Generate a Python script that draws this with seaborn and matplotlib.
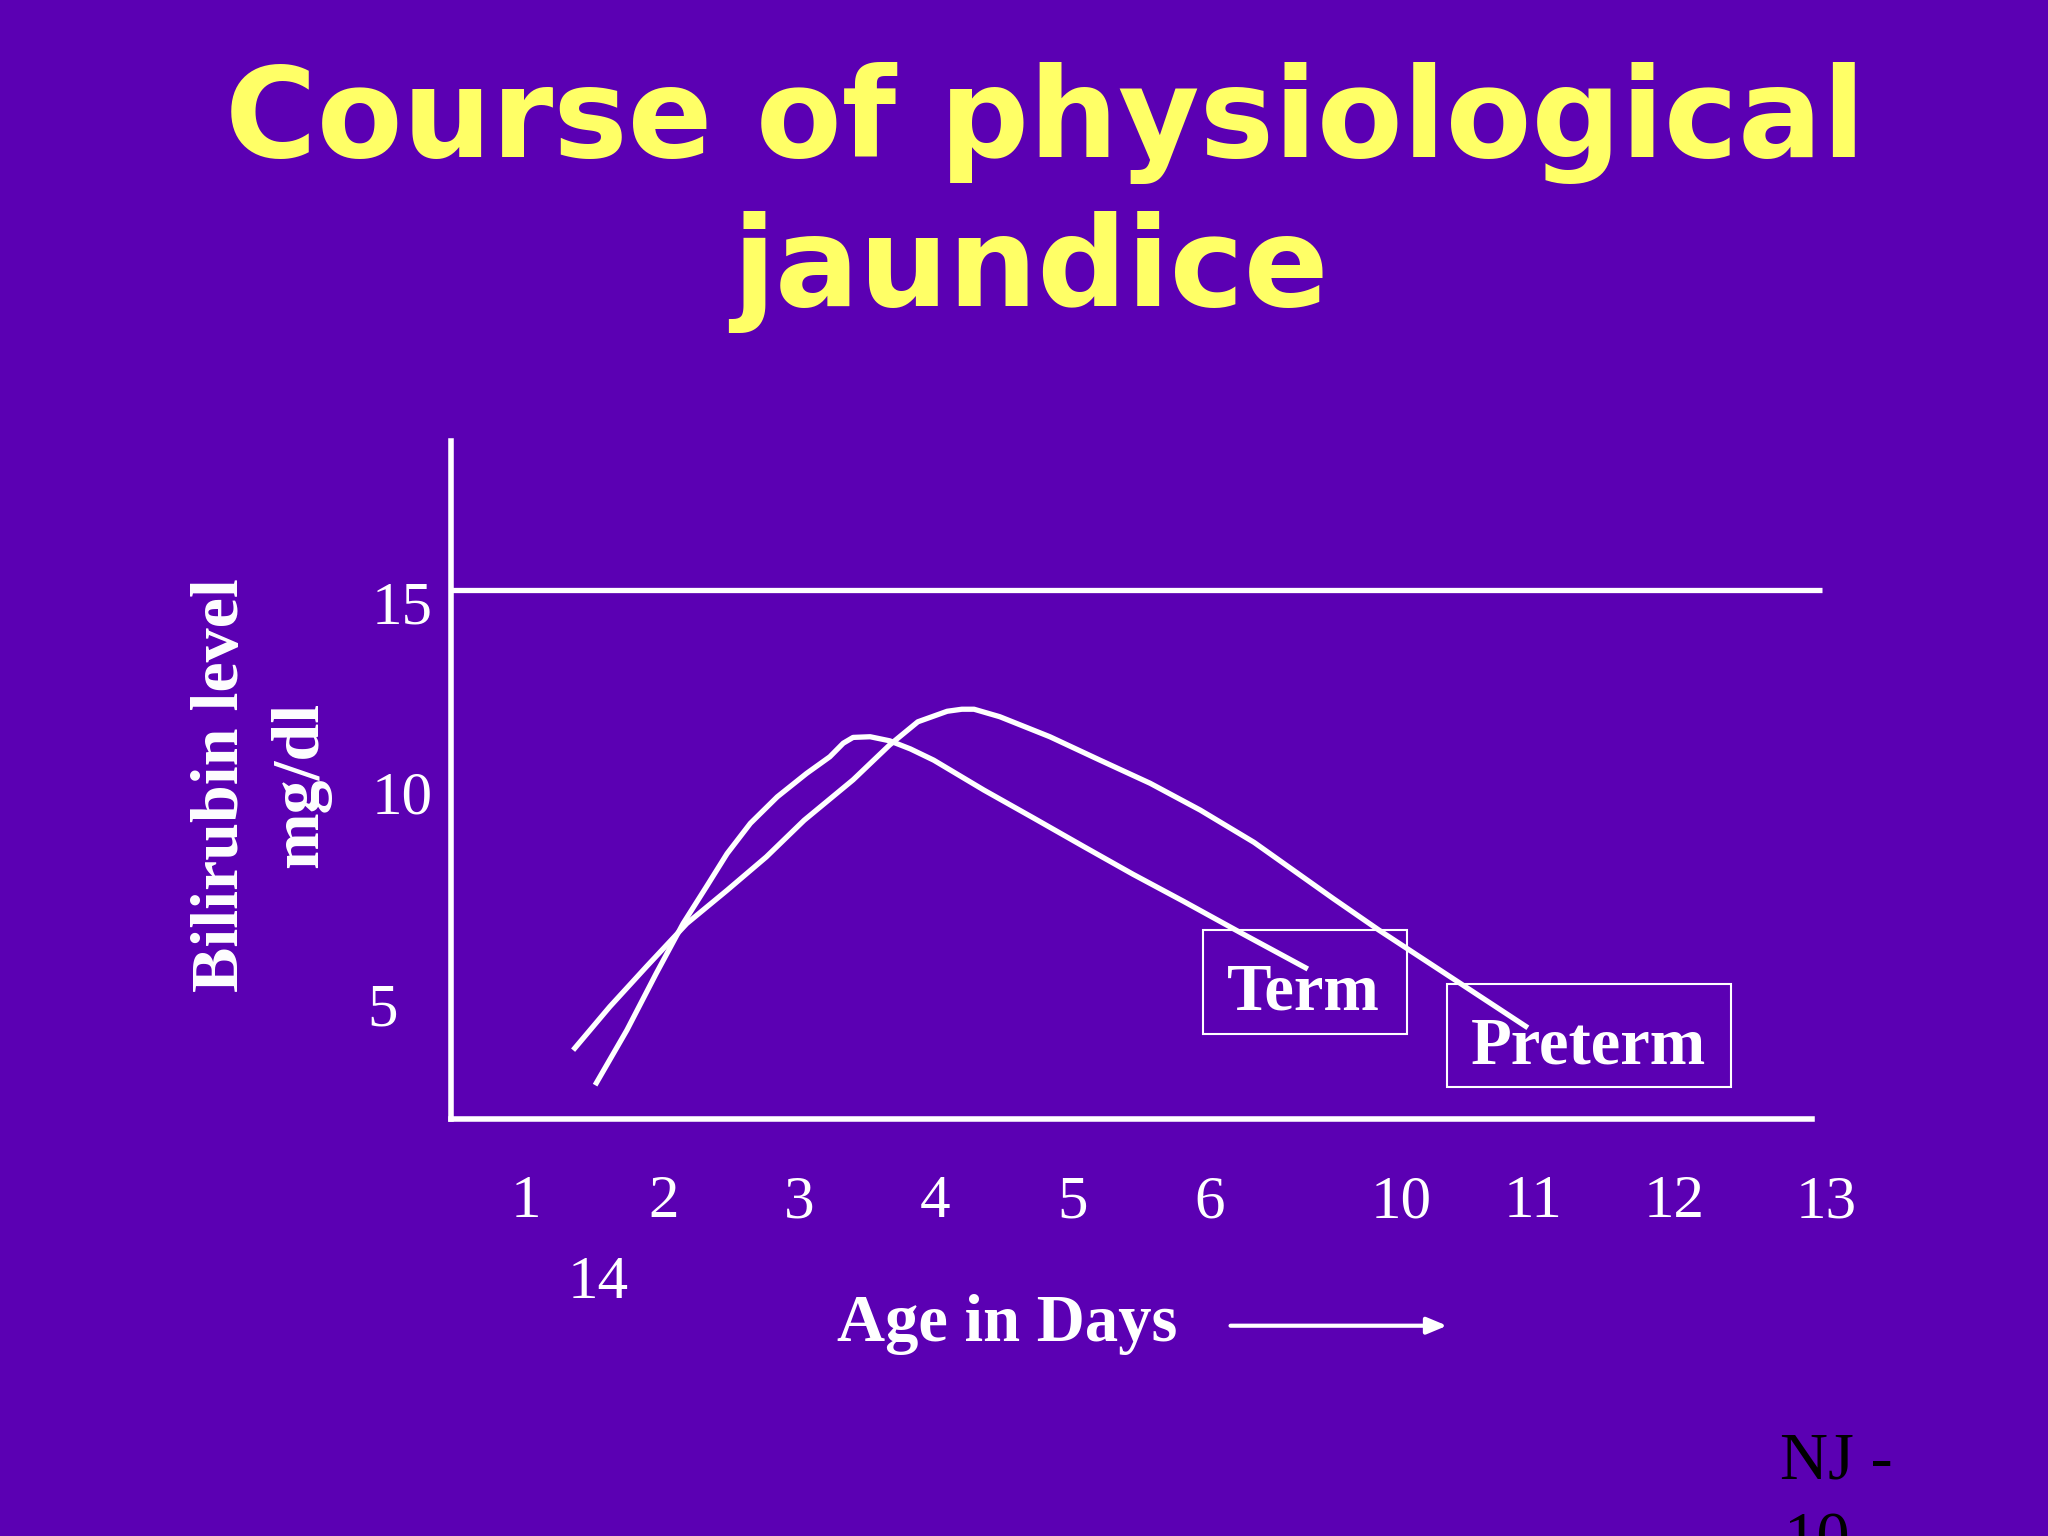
"""Slide chart: course of physiological jaundice (term vs preterm)."""

import matplotlib
matplotlib.use("Agg")
import matplotlib.pyplot as plt
from matplotlib.patches import Rectangle, FancyArrowPatch
import pandas as pd
import seaborn as sns

# curves: x = position along the day axis, y = mg/dl
term_day = [1.53, 1.79, 2.03, 2.25, 2.44, 2.61, 2.80, 3.02, 3.26, 3.45,
            3.56, 3.64, 3.78, 3.94, 4.11, 4.30, 4.71, 5.12, 5.53, 5.93,
            6.34, 6.81, 7.36]
term_mgdl = [0.43, 2.05, 3.72, 5.19, 6.27, 7.25, 8.14, 8.92, 9.61, 10.10,
             10.50, 10.67, 10.69, 10.57, 10.33, 10.00, 9.12, 8.29, 7.45, 6.64,
             5.85, 4.92, 3.85]
preterm_day = [1.35, 1.65, 1.95, 2.28, 2.61, 2.93, 3.24, 3.64, 3.94, 4.17,
               4.41, 4.53, 4.63, 4.84, 5.25, 5.66, 6.07, 6.48, 6.92, 7.57,
               7.94, 8.61, 9.16]
preterm_mgdl = [1.46, 2.74, 3.92, 5.19, 6.17, 7.15, 8.23, 9.42, 10.45, 11.13,
                11.44, 11.50, 11.50, 11.28, 10.69, 10.00, 9.32, 8.53, 7.58, 5.92,
                5.00, 3.42, 2.12]

limit_mgdl = 15
limit_end_day = 11.57
stub_mgdl = [10.2, 5.0]
tick_days = [1.0, 2.0, 3.0, 4.0, 5.0, 6.0, 7.42, 8.33, 9.37, 10.5, 11.47]
xtick_labels = ["1", "2", "3", "4", "5", "6", "10", "11", "12", "13"]
ytick_labels = ["15", "10", "5"]

BG = "#5B00B3"
YELLOW = "#FFFF66"
W, H = 1568, 1176  # reference frame used for layout


def fx(x):
    return x / W


def fy(y):
    return 1 - y / H


df = pd.concat([
    pd.DataFrame({"day": term_day, "mgdl": term_mgdl, "group": "Term"}),
    pd.DataFrame({"day": preterm_day, "mgdl": preterm_mgdl, "group": "Preterm"}),
])

sns.set_theme(style="white")
plt.rcParams["font.family"] = ["Liberation Serif", "DejaVu Serif"]

fig = plt.figure(figsize=(20.48, 15.36), dpi=100, facecolor=BG)
ax = fig.add_axes([fx(345), fy(857), (1387 - 345) / W, (857 - 338) / H])
ax.set_facecolor(BG)

sns.lineplot(data=df, x="day", y="mgdl", hue="group", units="group",
             estimator=None, sort=False, palette={"Term": "white", "Preterm": "white"},
             linewidth=3.8, legend=False, ax=ax,
             solid_capstyle="butt", solid_joinstyle="round")

ax.set_xlim(0.348, 11.481)
ax.set_ylim(-0.577, 19.385)
ax.hlines(limit_mgdl, 0.348, limit_end_day, color="white", lw=3.8, clip_on=False)

for side in ["top", "right"]:
    ax.spines[side].set_visible(False)
for side in ["left", "bottom"]:
    ax.spines[side].set_color("white")
    ax.spines[side].set_linewidth(4)

ax.set_xticks(tick_days)
ax.set_yticks(stub_mgdl)
ax.tick_params(axis="x", direction="out", length=27, width=3.6, color="white",
               labelbottom=False)
ax.tick_params(axis="y", direction="in", length=44, width=3.6, color="white",
               labelleft=False)
ax.set_xlabel("")
ax.set_ylabel("")

# title
title_font = dict(family="DejaVu Sans", weight="bold", color=YELLOW, fontsize=90)
fig.text(fx(800), fy(120), "Course of physiological", ha="center", va="baseline", **title_font)
fig.text(fx(789), fy(234), "jaundice", ha="center", va="baseline", **title_font)

# axis labels (slide text)
fig.text(fx(182), fy(601), "Bilirubin level", rotation=90, rotation_mode="anchor",
         ha="center", va="baseline", color="white", fontsize=49, fontweight="bold")
fig.text(fx(243), fy(601), "mg/dl", rotation=90, rotation_mode="anchor",
         ha="center", va="baseline", color="white", fontsize=49, fontweight="bold")
fig.text(fx(771), fy(1027), "Age in Days", ha="center", va="baseline",
         color="white", fontsize=48, fontweight="bold")
fig.add_artist(FancyArrowPatch(
    (fx(940), fy(1015)), (fx(1110), fy(1015)), transform=fig.transFigure,
    arrowstyle="-|>,head_length=0.6,head_width=0.25", mutation_scale=20,
    color="white", lw=3))

# y tick labels
for label, (x, y) in zip(ytick_labels, [(308, 477), (308, 623), (293, 785)]):
    fig.text(fx(x), fy(y), label, ha="center", va="baseline", color="white", fontsize=44)

# x tick labels
xlab_pos = [403, 508, 612, 716, 821, 926, 1073, 1174, 1282, 1398]
for label, x in zip(xtick_labels, xlab_pos):
    fig.text(fx(x), fy(932), label, ha="center", va="baseline", color="white", fontsize=44)
fig.text(fx(458), fy(994), "14", ha="center", va="baseline", color="white", fontsize=44)

# boxed curve labels
fig.text(fx(998), fy(773), "Term", ha="center", va="baseline", color="white",
         fontsize=48, fontweight="bold")
fig.text(fx(1216), fy(814), "Preterm", ha="center", va="baseline", color="white",
         fontsize=48, fontweight="bold")
for x0, y0, x1, y1 in [(921, 712, 1077, 792), (1108, 753, 1325, 832)]:
    fig.add_artist(Rectangle((fx(x0), fy(y1)), (x1 - x0) / W, (y1 - y0) / H,
                             transform=fig.transFigure, fill=False,
                             edgecolor="white", lw=1.5))

# slide footer (runs off the bottom edge, as on the slide)
fig.text(fx(1363), fy(1132), "NJ -", ha="left", va="baseline", color="black", fontsize=48)
fig.text(fx(1365), fy(1193), "10", ha="left", va="baseline", color="black", fontsize=48)

fig.savefig("out.png", dpi=100, facecolor=BG)
plt.close(fig)
